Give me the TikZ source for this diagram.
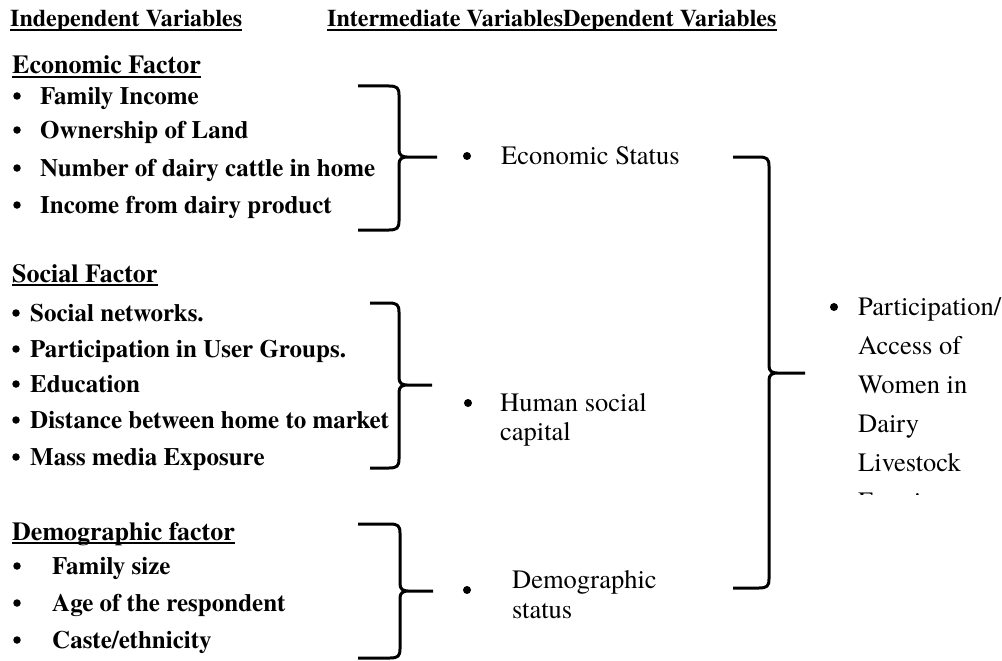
\documentclass[tikz,border=0pt]{standalone}
\usepackage{fontspec}
\setmainfont{TeX Gyre Termes}
\newcommand\brkt[6]{% #1 x left, #2 x vertical, #3 y top, #4 y mid, #5 y bottom, #6 x stub end
  \draw[brace] (#1,#3) -- ({#2-10},#3) .. controls ({#2-2},#3) and (#2,{#3+2}) .. (#2,{#3+9})
    -- (#2,{#4-7}) .. controls (#2,{#4-2}) and ({#2+3},#4) .. ({#2+8},#4) -- (#6,#4)
    ({#2+8},#4) .. controls ({#2+3},#4) and (#2,{#4+2}) .. (#2,{#4+7})
    -- (#2,{#5-9}) .. controls (#2,{#5-2}) and ({#2-2},#5) .. ({#2-10},#5) -- (#1,#5);}
\begin{document}
\begin{tikzpicture}[x=1pt,y=-1pt,
  hd/.style={anchor=base west, inner sep=0pt, font=\bfseries\fontsize{24}{28}\selectfont},
  fac/.style={anchor=base west, inner sep=0pt, font=\bfseries\fontsize{26}{30}\selectfont},
  itm/.style={anchor=base west, inner sep=0pt, font=\bfseries\fontsize{25}{30}\selectfont},
  reg/.style={anchor=base west, inner sep=0pt, font=\fontsize{26.5}{30}\selectfont},
  bdot/.style={circle, fill=black, inner sep=0pt, minimum size=7.5pt},
  rdot/.style={circle, fill=black, inner sep=0pt, minimum size=8pt},
  uline/.style={line width=2.5pt},
  brace/.style={line width=3pt, line join=round}]
\useasboundingbox (0,0) rectangle (1002,661);

% headers
\node[hd] (h1) at (10,27) {Independent Variables};
\node[hd] (h2) at (327,27) {Intermediate VariablesDependent Variables};
\draw[uline] ([yshift=-3pt]h1.base west) -- ([yshift=-3pt]h1.base east);
\draw[uline] ([yshift=-3pt]h2.base west) -- ([yshift=-3pt]h2.base east);

% Economic factor
\node[fac] (f1) at (12,74) {Economic Factor};
\draw[uline] ([yshift=-3pt]f1.base west) -- ([yshift=-3pt]f1.base east);
\foreach \t/\y [count=\i] in {Family Income/104, Ownership of Land/138, Number of dairy cattle in home/176, Income from dairy product/213}{
  \node[bdot] (eb\i) at (17,\y-8) {};
  \node[itm] (e\i) at (40,\y) {\t};
}

% Social factor
\node[fac] (f2) at (12,282) {Social Factor};
\draw[uline] ([yshift=-3pt]f2.base west) -- ([yshift=-3pt]f2.base east);
\foreach \t/\y [count=\i] in {Social networks./321, Participation in User Groups./357, Education/392, Distance between home to market/428, Mass media Exposure/465}{
  \node[bdot] (sb\i) at (16,\y-8) {};
  \node[itm] (s\i) at (30,\y) {\t};
}

% Demographic factor
\node[fac] (f3) at (12,540) {Demographic factor};
\draw[uline] ([yshift=-3pt]f3.base west) -- ([yshift=-3pt]f3.base east);
\foreach \t/\y [count=\i] in {Family size/574, Age of the respondent/611, {Caste/ethnicity}/648}{
  \node[bdot] (db\i) at (17,\y-8) {};
  \node[itm] (d\i) at (52,\y) {\t};
}

% brackets
\brkt{358}{399}{86}{157}{230}{437}
\brkt{370}{399}{303}{385}{468}{432}
\brkt{358}{400}{524}{591}{658}{433}
\brkt{733}{769}{157}{373}{588}{805}

% intermediate variables
\node[rdot] (ib1) at (467,156) {};
\node[reg] (i1) at (501,164) {Economic Status};
\node[rdot] (ib2) at (468,403) {};
\node[reg] (i2a) at (500,411) {Human social};
\node[reg] (i2b) at (500,440) {capital};
\node[rdot] (ib3) at (467,590) {};
\node[reg] (i3a) at (512,588) {Demographic};
\node[reg] (i3b) at (512,618) {status};

% dependent variable
\node[rdot] (pb) at (834,307) {};
\node[reg] (p1) at (858,315) {Participation/};
\node[reg] (p2) at (858,354) {Access of};
\node[reg] (p3) at (858,393) {Women in};
\node[reg] (p4) at (858,432) {Dairy};
\node[reg] (p5) at (858,471) {Livestock};
\begin{scope}
  \clip (840,480) rectangle (1002,494.5);
  \node[reg] (p6) at (858,510) {Farming};
\end{scope}
\end{tikzpicture}
\end{document}
